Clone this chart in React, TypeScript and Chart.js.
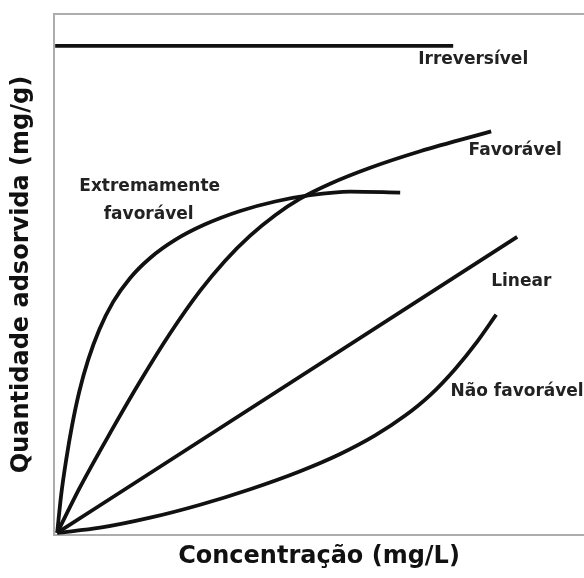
import { useEffect, useRef } from 'react';
import { Chart, registerables } from 'chart.js';

Chart.register(...registerables);

// Irreversível isotherm
const irrX = [-0.38, 75.17];
const irrY = [93.85, 93.85];

// Extremamente favorável
const extX = [0, 0.76, 1.71, 2.85, 4.18, 5.88, 7.97, 10.63, 13.86, 17.65, 22.4, 28.09, 34.74, 41.38, 48.03, 55.62, 65.11];
const extY = [0, 7.32, 14.07, 20.81, 27.17, 33.34, 39.12, 44.52, 49.14, 52.99, 56.47, 59.47, 62.04, 63.87, 65.08, 65.77, 65.58];

// Favorável
const favX = [0, 4.37, 10.06, 15.76, 21.45, 27.15, 31.89, 36.64, 41.38, 46.13, 51.82, 59.42, 68.91, 82.38];
const favY = [0, 8.86, 19.27, 29.22, 38.47, 46.68, 52.46, 57.28, 61.23, 64.41, 67.3, 70.38, 73.56, 77.38];

// Linear
const linX = [0, 87.32];
const linY = [0, 57.04];

// Não favorável
const naoX = [0, 8.16, 17.65, 27.15, 36.64, 46.13, 53.72, 60.36, 66.06, 70.8, 75.55, 79.73, 83.33];
const naoY = [0, 1.0, 2.93, 5.43, 8.42, 11.89, 15.21, 18.79, 22.61, 26.56, 31.61, 36.87, 42.07];

// Curve labels (data coordinates of label centres)
const labelTexts = ['Irreversível', 'Favorável', 'Extremamente', 'favorável', 'Linear', 'Não favorável'];
const labelX = [78.97, 86.94, 17.56, 17.37, 88.08, 87.3];
const labelY = [91.15, 73.62, 66.68, 61.28, 48.37, 27.2];

const xTitle = 'Concentração (mg/L)';
const yTitle = 'Quantidade adsorvida (mg/g)';

const FONT = '"DejaVu Sans", "Liberation Sans", Arial, sans-serif';

const toPoints = (xs: number[], ys: number[]) => xs.map((x, i) => ({ x, y: ys[i] }));

const labelPlugin = {
  id: 'curveLabels',
  afterDatasetsDraw(chart: any) {
    const { ctx, scales } = chart;
    const xs = scales.x;
    const ys = scales.y;
    ctx.save();
    ctx.font = `bold 17px ${FONT}`;
    ctx.fillStyle = '#222222';
    ctx.textAlign = 'center';
    ctx.textBaseline = 'middle';
    labelTexts.forEach((t, i) => {
      ctx.fillText(t, xs.getPixelForValue(labelX[i]), ys.getPixelForValue(labelY[i]));
    });
    ctx.restore();
  },
};

export default function App() {
  const canvasRef = useRef<HTMLCanvasElement | null>(null);

  useEffect(() => {
    if (!canvasRef.current) return;
    const lineStyle = {
      borderColor: '#111111',
      borderWidth: 3.8,
      pointRadius: 0,
      pointHoverRadius: 0,
      fill: false,
      cubicInterpolationMode: 'monotone' as const,
      xAxisID: 'x',
      yAxisID: 'y',
    };
    const borderCol = '#adadad';
    const chart = new Chart(canvasRef.current, {
      type: 'line',
      data: {
        datasets: [
          { label: 'Irreversível', data: toPoints(irrX, irrY), ...lineStyle },
          { label: 'Extremamente favorável', data: toPoints(extX, extY), ...lineStyle },
          { label: 'Favorável', data: toPoints(favX, favY), ...lineStyle },
          { label: 'Linear', data: toPoints(linX, linY), ...lineStyle },
          { label: 'Não favorável', data: toPoints(naoX, naoY), ...lineStyle },
        ],
      },
      options: {
        animation: false,
        responsive: true,
        maintainAspectRatio: false,
        layout: { padding: { left: 0, right: 0, top: 14, bottom: 0 } },
        plugins: { legend: { display: false }, tooltip: { enabled: false } },
        scales: {
          x: {
            type: 'linear',
            position: 'bottom',
            min: -0.6,
            max: 100,
            ticks: { display: false },
            grid: { display: false, drawTicks: false },
            border: { display: true, color: borderCol, width: 2 },
            title: {
              display: true,
              text: xTitle,
              color: '#111111',
              font: { family: FONT, size: 24, weight: 'bold' },
              padding: { top: 7.6, bottom: 6.6 },
            },
          },
          xTop: {
            type: 'linear',
            position: 'top',
            min: -0.6,
            max: 100,
            ticks: { display: false },
            grid: { display: false, drawTicks: false },
            border: { display: true, color: borderCol, width: 2 },
            title: { display: false },
          },
          y: {
            type: 'linear',
            position: 'left',
            min: -0.4,
            max: 100,
            ticks: { display: false },
            grid: { display: false, drawTicks: false },
            border: { display: true, color: borderCol, width: 2 },
            title: {
              display: true,
              text: yTitle,
              color: '#111111',
              font: { family: FONT, size: 24, weight: 'bold' },
              padding: { top: 7, bottom: 18.2 },
            },
          },
        },
      },
      plugins: [labelPlugin],
    });
    return () => chart.destroy();
  }, []);

  return (
    <div style={{ position: 'fixed', left: 0, top: 0, width: 584, height: 578, background: '#fff' }}>
      <canvas ref={canvasRef} />
    </div>
  );
}
